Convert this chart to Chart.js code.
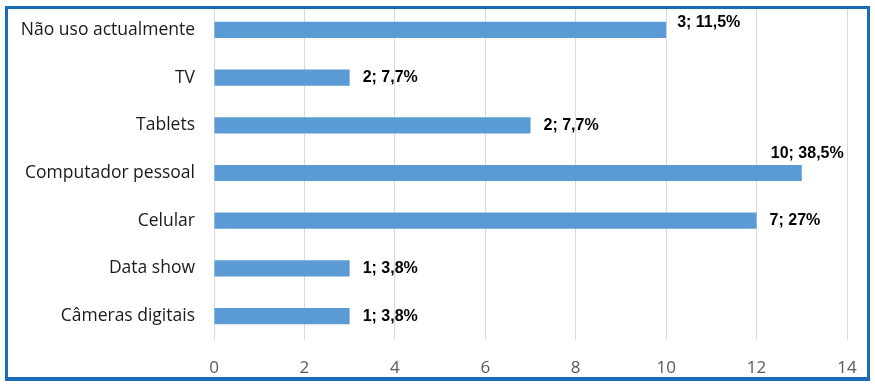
<!DOCTYPE html>
<html lang="pt">
<head>
    <meta charset="UTF-8">
    <title>Dispositivos</title>
    <script src="https://cdn.jsdelivr.net/npm/chart.js"></script>
    <style>
        body {
            margin: 0;
            padding: 0;
            background-color: #fff;
        }

        #wrap {
            position: relative;
            width: 875px;
            height: 387px;
        }

        #frame {
            position: absolute;
            left: 5px;
            top: 6px;
            width: 859px;
            height: 368px;
            border: 3px solid #1b6cb6;
            border-bottom-width: 4px;
            pointer-events: none;
        }
    </style>
</head>
<body>
    <div id="wrap">
        <canvas id="chart" width="875" height="387"></canvas>
        <div id="frame"></div>
    </div>

    <script>
        const categories = ['Não uso actualmente', 'TV', 'Tablets', 'Computador pessoal', 'Celular', 'Data show', 'Câmeras digitais'];
        const values = [10, 3, 7, 13, 12, 3, 3];
        const valueLabels = ['3; 11,5%', '2; 7,7%', '2; 7,7%', '10; 38,5%', '7; 27%', '1; 3,8%', '1; 3,8%'];
        const xTicks = [0, 2, 4, 6, 8, 10, 12, 14];

        // labels that Excel moved off their usual spot
        const labelShift = { 0: { dx: -2, dy: -7 }, 3: { dx: -44, dy: -19 } };

        const barLabels = {
            id: 'barLabels',
            afterDatasetsDraw(chart) {
                const ctx = chart.ctx;
                const meta = chart.getDatasetMeta(0);
                ctx.save();
                ctx.font = 'bold 16px "Liberation Sans", Arial, sans-serif';
                ctx.fillStyle = '#000';
                ctx.textAlign = 'left';
                ctx.textBaseline = 'middle';
                meta.data.forEach((bar, i) => {
                    const s = labelShift[i] || { dx: 0, dy: 0 };
                    ctx.fillText(valueLabels[i], bar.x + 13 + s.dx, bar.y + s.dy);
                });
                ctx.restore();
            }
        };

        new Chart(document.getElementById('chart'), {
            type: 'bar',
            data: {
                labels: categories,
                datasets: [{
                    data: values,
                    backgroundColor: '#5b9bd5',
                    categoryPercentage: 1,
                    barPercentage: 0.34
                }]
            },
            options: {
                indexAxis: 'y',
                responsive: false,
                animation: false,
                layout: { padding: { top: 6, right: 28, bottom: 0, left: 0 } },
                plugins: {
                    legend: { display: false },
                    tooltip: { enabled: false }
                },
                scales: {
                    x: {
                        min: 0,
                        max: 14,
                        afterBuildTicks(scale) {
                            scale.ticks = xTicks.map(v => ({ value: v }));
                        },
                        afterFit(scale) {
                            scale.height = 47;
                            scale.paddingLeft = 0;
                            scale.paddingRight = 0;
                        },
                        grid: { color: '#d9d9d9', drawTicks: false },
                        border: { display: false },
                        ticks: {
                            padding: 18,
                            color: '#595959',
                            font: { family: '"Open Sans", sans-serif', size: 17 }
                        }
                    },
                    y: {
                        afterFit(scale) {
                            scale.width = 214;
                            scale.paddingTop = 0;
                            scale.paddingBottom = 0;
                        },
                        grid: { display: false, drawTicks: false },
                        border: { display: false },
                        ticks: {
                            padding: 19,
                            color: '#1a1a1a',
                            font: { family: '"Open Sans", sans-serif', size: 17.5 }
                        }
                    }
                }
            },
            plugins: [barLabels]
        });
    </script>
</body>
</html>
